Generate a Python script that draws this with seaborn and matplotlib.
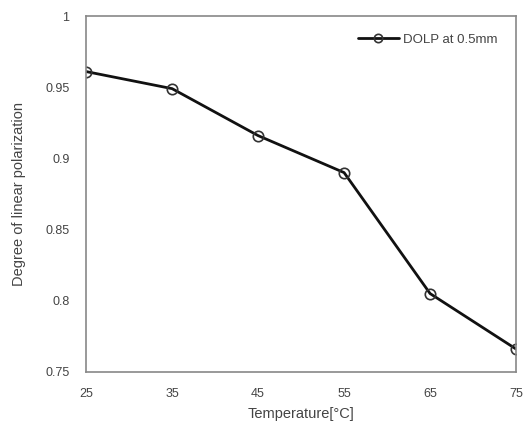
import matplotlib
matplotlib.use("Agg")
import matplotlib.pyplot as plt
import seaborn as sns
import pandas as pd

temperature = [25, 35, 45, 55, 65, 75]
dolp = [0.961, 0.949, 0.916, 0.890, 0.805, 0.766]
series_label = "DOLP at 0.5mm"

sns.set_style("white")
plt.rcParams['font.family'] = ['Liberation Sans', 'DejaVu Sans']

df = pd.DataFrame({"Temperature": temperature, "DOLP": dolp})

fig = plt.figure(figsize=(5.25, 4.23), dpi=100)
ax = fig.add_axes([0.164, 0.121, 0.819, 0.841])

sns.lineplot(data=df, x="Temperature", y="DOLP", ax=ax, color="#111111",
             linewidth=2, marker="o", markersize=7.5, markerfacecolor="none",
             markeredgecolor="#333333", markeredgewidth=1.2, label=series_label)

ax.set_xlim(25, 75)
ax.set_ylim(0.75, 1)
ax.set_xticks(temperature)
ax.set_yticks([0.75, 0.8, 0.85, 0.9, 0.95, 1])
ax.set_yticklabels(["0.75", "0.8", "0.85", "0.9", "0.95", "1"])
ax.tick_params(axis="both", labelsize=9, colors="#444444", length=0)
ax.tick_params(axis="x", pad=12)
ax.tick_params(axis="y", pad=12)
ax.set_xlabel("Temperature[\u00b0C]", fontsize=10.5, color="#444444", labelpad=5)
ax.set_ylabel("Degree of linear polarization", fontsize=10.5, color="#444444", labelpad=14)
for s in ax.spines.values():
    s.set_color("#888888")
    s.set_linewidth(1.2)

leg = ax.legend(loc="upper right", frameon=False, fontsize=9.5, handlelength=3.1,
                handletextpad=0.3, borderpad=0, borderaxespad=0,
                bbox_to_anchor=(0.956, 0.95), markerscale=0.8)
for t in leg.get_texts():
    t.set_color("#444444")

fig.savefig("out.png", dpi=100)
